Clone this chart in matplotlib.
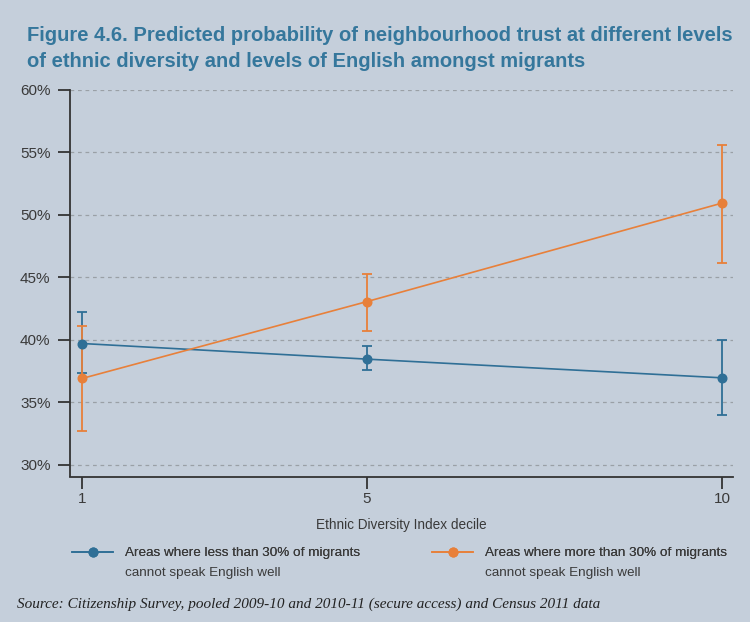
import matplotlib
matplotlib.use("Agg")
import matplotlib.pyplot as plt
from matplotlib.lines import Line2D

# Ethnic Diversity Index deciles shown
deciles = [1, 5, 10]

# Predicted probability (%) with confidence bounds
low_share = [39.7, 38.45, 36.95]
low_upper = [42.2, 39.5, 39.95]
low_lower = [37.35, 37.55, 34.0]

high_share = [36.9, 43.05, 50.95]
high_upper = [41.1, 45.25, 55.6]
high_lower = [32.7, 40.7, 46.15]

y_ticks = [30, 35, 40, 45, 50, 55, 60]
y_tick_labels = ["30%", "35%", "40%", "45%", "50%", "55%", "60%"]

series_labels = [
    "Areas where less than 30% of migrants",
    "Areas where more than 30% of migrants",
]
label_second_line = "cannot speak English well"

title = ("Figure 4.6. Predicted probability of neighbourhood trust at different levels\n"
         "of ethnic diversity and levels of English amongst migrants")
source = "Source: Citizenship Survey, pooled 2009-10 and 2010-11 (secure access) and Census 2011 data"
x_label = "Ethnic Diversity Index decile"

BG = "#c5cfdb"
BLUE = "#2f6f96"
ORANGE = "#e8803a"
TITLE_COLOR = "#35779c"
TEXT = "#3a3a3a"

plt.rcParams["font.family"] = ["Liberation Sans", "DejaVu Sans"]

fig = plt.figure(figsize=(7.5, 6.22), dpi=100, facecolor=BG)
ax = fig.add_axes([70 / 750, 1 - 476.5 / 622, (733 - 70) / 750, (476.5 - 90) / 622])
ax.set_facecolor(BG)

def draw_series(vals, upper, lower, color):
    yerr = [[v - lo for v, lo in zip(vals, lower)], [up - v for v, up in zip(vals, upper)]]
    ax.errorbar(deciles, vals, yerr=yerr, color=color, ecolor=color, lw=1.2,
                elinewidth=1.3, capsize=3.4, capthick=1.3, marker="o", ms=6.2,
                zorder=3)

draw_series(low_share, low_upper, low_lower, BLUE)
draw_series(high_share, high_upper, high_lower, ORANGE)

ax.set_xlim(0.83, 10.15)
ax.set_ylim(29.05, 60)
ax.set_yticks(y_ticks)
ax.set_yticklabels(y_tick_labels)
ax.set_xticks(deciles)
ax.set_xticklabels([str(d) for d in deciles])

for spine in ["top", "right"]:
    ax.spines[spine].set_visible(False)
for spine in ["left", "bottom"]:
    ax.spines[spine].set_color("#333333")
    ax.spines[spine].set_linewidth(1.3)

ax.yaxis.grid(True, linestyle=(0, (3, 3)), color="#9aa0a6", lw=0.9)
ax.set_axisbelow(True)
ax.tick_params(axis="both", direction="out", length=8.5, width=1.3, color="#333333",
               labelcolor=TEXT, labelsize=11)
ax.tick_params(axis="y", pad=5.5)
ax.tick_params(axis="x", pad=3)
ax.set_xlabel(x_label, fontsize=9.8, color=TEXT, labelpad=8)

fig.text(27 / 750, 1 - 26 / 622, title, ha="left", va="top", fontsize=14.5,
         fontweight="bold", color=TITLE_COLOR, linespacing=1.45)

# Legend: handle beside the first line of each label, second line set underneath
handles = [
    Line2D([0], [0], color=BLUE, lw=1.2, marker="o", ms=6.2),
    Line2D([0], [0], color=ORANGE, lw=1.2, marker="o", ms=6.2),
]
anchors = [67 / 750, 427 / 750]
text_x = [125 / 750, 485 / 750]
for h, lab, x0, tx in zip(handles, series_labels, anchors, text_x):
    leg = fig.legend([h], [lab], loc="center left",
                     bbox_to_anchor=(x0, 1 - 553 / 622), frameon=False,
                     fontsize=9.7, handlelength=3, handletextpad=0.9, labelcolor=TEXT,
                     borderaxespad=0)
    fig.add_artist(leg)
    fig.text(tx, 1 - 573 / 622, label_second_line, ha="left", va="center",
             fontsize=9.7, color=TEXT)

fig.text(17 / 750, 1 - 608 / 622, source, ha="left", va="baseline", fontsize=11,
         style="italic", color="#222222", family=["Liberation Serif", "DejaVu Serif"])

fig.savefig("out.png", dpi=100, facecolor=BG)
